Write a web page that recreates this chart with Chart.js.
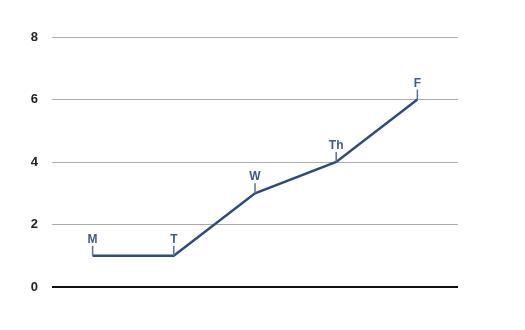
<!DOCTYPE html>
<html>
<head>
<meta charset="utf-8">
<script src="https://cdn.jsdelivr.net/npm/chart.js@4/dist/chart.umd.min.js"></script>
<style>
  html, body { margin: 0; padding: 0; background: #fff; }
  #wrap { width: 525px; height: 330px; }
</style>
</head>
<body>
<div id="wrap"><canvas id="chart"></canvas></div>
<script>
'use strict';

// DATA
let days = ['M', 'T', 'W', 'Th', 'F'];
let values = [1, 1, 3, 4, 6];
let yTicks = [0, 2, 4, 6, 8];

// draws the day name above each point with a little stem
const pointLabels = {
  id: 'pointLabels',
  afterDatasetsDraw(chart) {
    const ctx = chart.ctx;
    const meta = chart.getDatasetMeta(0);
    ctx.save();
    ctx.strokeStyle = '#5a6f99';
    ctx.lineWidth = 1.5;
    ctx.fillStyle = '#3f5a8f';
    ctx.font = 'bold 12px "Liberation Sans", Arial, sans-serif';
    ctx.textAlign = 'center';
    ctx.textBaseline = 'alphabetic';
    meta.data.forEach((pt, i) => {
      ctx.beginPath();
      ctx.moveTo(pt.x, pt.y);
      ctx.lineTo(pt.x, pt.y - 10);
      ctx.stroke();
      ctx.fillText(days[i], pt.x, pt.y - 13);
    });
    ctx.restore();
  }
};

new Chart(document.getElementById('chart'), {
  type: 'line',
  data: {
    labels: days,
    datasets: [{
      data: values,
      borderColor: '#2e4a7f',
      borderWidth: 2.5,
      pointRadius: 0,
      tension: 0
    }]
  },
  options: {
    responsive: true,
    maintainAspectRatio: false,
    animation: false,
    layout: { padding: { left: 0, right: 67, top: 37, bottom: 43 } },
    plugins: { legend: { display: false }, tooltip: { enabled: false } },
    scales: {
      x: {
        display: false,
        offset: true
      },
      y: {
        min: 0,
        max: 8,
        afterFit(scale) { scale.width = 52; },
        afterBuildTicks(scale) { scale.ticks = yTicks.map(v => ({ value: v })); },
        border: { display: false },
        grid: {
          drawTicks: false,
          color: ctx => ctx.tick.value === 0 ? '#111' : '#ababab',
          lineWidth: ctx => ctx.tick.value === 0 ? 2 : 1
        },
        ticks: {
          padding: 14,
          color: '#222',
          font: { family: '"Liberation Sans", Arial, sans-serif', size: 13, weight: 'bold' }
        }
      }
    }
  },
  plugins: [pointLabels]
});
</script>
</body>
</html>
